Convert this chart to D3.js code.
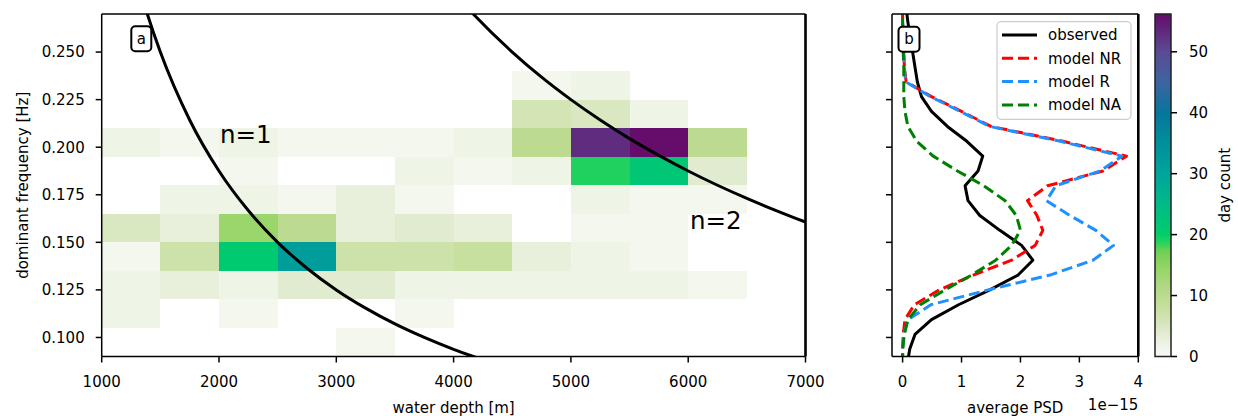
<!DOCTYPE html>
<html><head><meta charset="utf-8">
<script src="https://cdn.jsdelivr.net/npm/d3@7/dist/d3.min.js"></script>
<style>
body{margin:0;background:#fff;}
svg text{font-family:"DejaVu Sans",sans-serif;fill:#000;}
</style>
</head><body>
<svg id="chart" width="1238" height="416"></svg>
<script>
// ---------- DATA ----------
const depthBinEdges = [1000,1500,2000,2500,3000,3500,4000,4500,5000,5500,6000,6500,7000];
const freqBinEdges = [0.090,0.105,0.120,0.135,0.150,0.165,0.180,0.195,0.210,0.225,0.240,0.255,0.270];
// day counts: one row per frequency bin (low -> high), one column per depth bin
const dayCounts = [
  [0,0,0,0,1,0,0,0,0,0,0,0],
  [2,0,1,0,0,1,0,0,0,0,0,0],
  [2,3,2,4,4,2,2,2,2,2,1,0],
  [1,7,21,32,7,7,8,3,2,1,0,0],
  [5,3,14,10,3,4,3,0,1,1,0,0],
  [0,2,2,1,3,1,0,0,2,1,1,0],
  [0,0,1,0,0,2,1,2,19,22,4,0],
  [2,1,2,1,1,1,2,10,53,56,10,0],
  [0,0,0,0,0,0,0,6,5,2,0,0],
  [0,0,0,0,0,0,0,1,2,0,0,0],
  [0,0,0,0,0,0,0,0,0,0,0,0],
  [0,0,0,0,0,0,0,0,0,0,0,0]
];
const colorStops = [0,2,4,6,8,10,12,14,16,17.5,18.5,20,25,30,35,40,45,50,56];
const colorValues = ["#f8f9f6","#eef4e6","#e1ebcf","#d3e4b5","#c7df9f","#bcdb90","#acd77e","#9ad66b","#82d25c","#68cf55","#30d25c","#00ce69","#00ba88","#00a59a","#00909c","#07769b","#3d64a0","#5a4b94","#660d6b"];
const countTicks = [0,10,20,30,40,50];

// theoretical resonance curves (depth [m], frequency [Hz])
const n1Depth = [1350,1389,1500,1750,2000,2250,2500,2750,3000,3250,3500,3750,4000,4167,4300];
const n1Freq  = [0.2778,0.27,0.25,0.2143,0.1875,0.1667,0.15,0.1364,0.125,0.1154,0.1071,0.10,0.09375,0.09,0.0872];
const n2Depth = [4100,4167,4500,4750,5000,5250,5500,5750,6000,6250,6500,6750,7000,7100];
const n2Freq  = [0.2744,0.27,0.25,0.2368,0.225,0.2143,0.2045,0.1957,0.1875,0.18,0.1731,0.1667,0.1607,0.1585];

// average PSD (x1e-15) per frequency
const psdFreq = [0.0859,0.0938,0.1016,0.1094,0.1172,0.1250,0.1328,0.1406,0.1484,0.1563,0.1641,0.1719,0.1797,0.1875,0.1953,0.2031,0.2109,0.2188,0.2266,0.2344,0.2422,0.2500,0.2578,0.2656,0.2734];
const observed = [0.08,0.12,0.21,0.49,0.95,1.48,1.96,2.21,2.02,1.65,1.31,1.11,1.06,1.28,1.36,1.09,0.76,0.49,0.32,0.25,0.21,0.17,0.13,0.09,0.06];
const modelNR  = [0.0,0.0,0.01,0.04,0.20,0.62,1.20,1.85,2.25,2.38,2.28,2.12,2.46,3.40,3.80,2.72,1.50,1.00,0.49,0.06,0.03,0.02,0.01,0.0,0.0];
const modelR   = [0.0,0.0,0.02,0.09,0.48,1.45,2.50,3.23,3.58,3.28,2.84,2.44,2.60,3.35,3.72,2.68,1.48,0.98,0.47,0.05,0.03,0.02,0.01,0.0,0.0];
const modelNA  = [0.0,0.0,0.03,0.09,0.30,0.72,1.17,1.58,1.85,2.00,1.93,1.74,1.38,0.93,0.52,0.24,0.09,0.04,0.02,0.02,0.02,0.01,0.01,0.0,0.0];
const seriesNames = ["observed","model NR","model R","model NA"];
const seriesColors = ["#000000","#ff0000","#1e90ff","#008000"];
const seriesDash = [null,"11,5","11,5","11,5"];

const depthTicks = [1000,2000,3000,4000,5000,6000,7000];
const freqTicks = [0.100,0.125,0.150,0.175,0.200,0.225,0.250];
const psdTicks = [0,1,2,3,4];

// ---------- LAYOUT ----------
const svg = d3.select("#chart");
const FS = 15;
const yTop = 14, yBot = 356.5;
const axA = {x0:101.7, x1:805.5};
const axB = {x0:892, x1:1138.3};
const cb = {x0:1155, x1:1171};

const xA = d3.scaleLinear().domain([1000,7000]).range([axA.x0, axA.x1]);
const y = d3.scaleLinear().domain([0.09,0.27]).range([yBot, yTop]);
const xB = d3.scaleLinear().domain([-0.18,4]).range([axB.x0, axB.x1]);
const color = d3.scaleLinear().domain(colorStops).range(colorValues).clamp(true);
const yC = d3.scaleLinear().domain([0,56.2]).range([yBot, yTop]);

const defs = svg.append("defs");
defs.append("clipPath").attr("id","clipA").append("rect")
  .attr("x",axA.x0).attr("y",yTop).attr("width",axA.x1-axA.x0).attr("height",yBot-yTop);
defs.append("clipPath").attr("id","clipB").append("rect")
  .attr("x",axB.x0).attr("y",yTop).attr("width",axB.x1-axB.x0).attr("height",yBot-yTop);

// ---------- PANEL A: heatmap ----------
const cells = [];
dayCounts.forEach((row,i)=>row.forEach((v,j)=>{ if(v>0) cells.push({i,j,v}); }));
const gA = svg.append("g");
gA.append("g").attr("clip-path","url(#clipA)").selectAll("rect").data(cells).join("rect")
  .attr("x",d=>xA(depthBinEdges[d.j]))
  .attr("width",d=>xA(depthBinEdges[d.j+1])-xA(depthBinEdges[d.j]))
  .attr("y",d=>y(freqBinEdges[d.i+1]))
  .attr("height",d=>y(freqBinEdges[d.i])-y(freqBinEdges[d.i+1]))
  .attr("fill",d=>color(d.v))
  .attr("shape-rendering","crispEdges");

const lineA = d3.line().x(d=>xA(d[0])).y(d=>y(d[1])).curve(d3.curveMonotoneX);
const gCurves = gA.append("g").attr("clip-path","url(#clipA)");
gCurves.append("path").attr("d",lineA(d3.zip(n1Depth,n1Freq))).attr("fill","none").attr("stroke","#000").attr("stroke-width",3);
gCurves.append("path").attr("d",lineA(d3.zip(n2Depth,n2Freq))).attr("fill","none").attr("stroke","#000").attr("stroke-width",3);

gA.append("text").attr("x",220).attr("y",143).attr("font-size",24.5).text("n=1");
gA.append("text").attr("x",690).attr("y",229).attr("font-size",24.5).text("n=2");

function panelLabel(cx, cy, t, w, h){
  svg.append("rect").attr("x",cx-w/2).attr("y",cy-h/2).attr("width",w).attr("height",h)
    .attr("rx",4).attr("fill","#fff").attr("stroke","#000").attr("stroke-width",2);
  svg.append("text").attr("x",cx).attr("y",cy).attr("dy","0.35em").attr("text-anchor","middle")
    .attr("font-size",FS).text(t);
}
panelLabel(141.3,38.7,"a",20,25);

function frame(x0,x1,rightW){
  const g = svg.append("g").attr("fill","none").attr("stroke","#000");
  g.append("line").attr("x1",x0).attr("x2",x1).attr("y1",yTop).attr("y2",yTop).attr("stroke-width",1.5);
  g.append("line").attr("x1",x0).attr("x2",x1).attr("y1",yBot).attr("y2",yBot).attr("stroke-width",1.5);
  g.append("line").attr("x1",x0).attr("x2",x0).attr("y1",yTop).attr("y2",yBot).attr("stroke-width",1.5);
  g.append("line").attr("x1",x1).attr("x2",x1).attr("y1",yTop).attr("y2",yBot).attr("stroke-width",rightW);
}
frame(axA.x0,axA.x1,2.6);

const tA = svg.append("g");
depthTicks.forEach(v=>{
  tA.append("line").attr("x1",xA(v)).attr("x2",xA(v)).attr("y1",yBot).attr("y2",yBot+6).attr("stroke","#000").attr("stroke-width",1.5);
  tA.append("text").attr("x",xA(v)).attr("y",387).attr("text-anchor","middle").attr("font-size",FS).text(d3.format("d")(v));
});
freqTicks.forEach(v=>{
  tA.append("line").attr("x1",axA.x0-6).attr("x2",axA.x0).attr("y1",y(v)).attr("y2",y(v)).attr("stroke","#000").attr("stroke-width",1.5);
  tA.append("text").attr("x",axA.x0-17).attr("y",y(v)).attr("dy","0.36em").attr("text-anchor","end").attr("font-size",FS).text(d3.format(".3f")(v));
});
svg.append("text").attr("x",(axA.x0+axA.x1)/2).attr("y",413).attr("text-anchor","middle").attr("font-size",FS).text("water depth [m]");
svg.append("text").attr("transform",`translate(28,${(yTop+yBot)/2}) rotate(-90)`).attr("text-anchor","middle").attr("font-size",FS).text("dominant frequency [Hz]");

// ---------- PANEL B: PSD profiles ----------
const gB = svg.append("g").attr("clip-path","url(#clipB)");
const series = [observed, modelNR, modelR, modelNA];
const lineB = d3.line().x(d=>xB(d[0])).y(d=>y(d[1]));
series.forEach((s,k)=>{
  gB.append("path").attr("d",lineB(d3.zip(s,psdFreq))).attr("fill","none")
    .attr("stroke",seriesColors[k]).attr("stroke-width",3)
    .attr("stroke-dasharray",seriesDash[k]).attr("stroke-linejoin","round");
});
panelLabel(909,39.2,"b",21,25);

frame(axB.x0,axB.x1,2.6);
const tB = svg.append("g");
psdTicks.forEach(v=>{
  tB.append("line").attr("x1",xB(v)).attr("x2",xB(v)).attr("y1",yBot).attr("y2",yBot+6).attr("stroke","#000").attr("stroke-width",1.5);
  tB.append("text").attr("x",xB(v)).attr("y",387).attr("text-anchor","middle").attr("font-size",FS).text(v);
});
freqTicks.forEach(v=>{
  tB.append("line").attr("x1",axB.x0-6).attr("x2",axB.x0).attr("y1",y(v)).attr("y2",y(v)).attr("stroke","#000").attr("stroke-width",1.5);
});
svg.append("text").attr("x",(axB.x0+axB.x1)/2).attr("y",413).attr("text-anchor","middle").attr("font-size",FS).text("average PSD");
svg.append("text").attr("x",axB.x1).attr("y",410).attr("text-anchor","end").attr("font-size",FS).text("1e\u221215");

// legend
const lg = svg.append("g");
lg.append("rect").attr("x",997).attr("y",21.7).attr("width",134).attr("height",97.6).attr("rx",4)
  .attr("fill","#fff").attr("fill-opacity",0.8).attr("stroke","#cccccc").attr("stroke-width",1.2);
seriesNames.forEach((nm,k)=>{
  const yy = 35 + k*23.3;
  lg.append("line").attr("x1",1002).attr("x2",1037).attr("y1",yy).attr("y2",yy)
    .attr("stroke",seriesColors[k]).attr("stroke-width",3).attr("stroke-dasharray",seriesDash[k]);
  lg.append("text").attr("x",1048).attr("y",yy).attr("dy","0.36em").attr("font-size",FS).text(nm);
});

// ---------- COLORBAR ----------
const grad = defs.append("linearGradient").attr("id","cbgrad").attr("x1","0").attr("y1","1").attr("x2","0").attr("y2","0");
colorStops.forEach((s,i)=>{
  grad.append("stop").attr("offset",(s/56.2)).attr("stop-color",colorValues[i]);
});
svg.append("rect").attr("x",cb.x0).attr("y",yTop).attr("width",cb.x1-cb.x0).attr("height",yBot-yTop)
  .attr("fill","url(#cbgrad)").attr("stroke","#222").attr("stroke-width",1.5);
countTicks.forEach(v=>{
  svg.append("line").attr("x1",cb.x1).attr("x2",cb.x1+6).attr("y1",yC(v)).attr("y2",yC(v)).attr("stroke","#000").attr("stroke-width",1.5);
  svg.append("text").attr("x",cb.x1+18).attr("y",yC(v)).attr("dy","0.36em").attr("font-size",FS).text(v);
});
svg.append("text").attr("transform",`translate(1230,${(yTop+yBot)/2}) rotate(-90)`).attr("text-anchor","middle").attr("font-size",FS).text("day count");
</script>
</body></html>
